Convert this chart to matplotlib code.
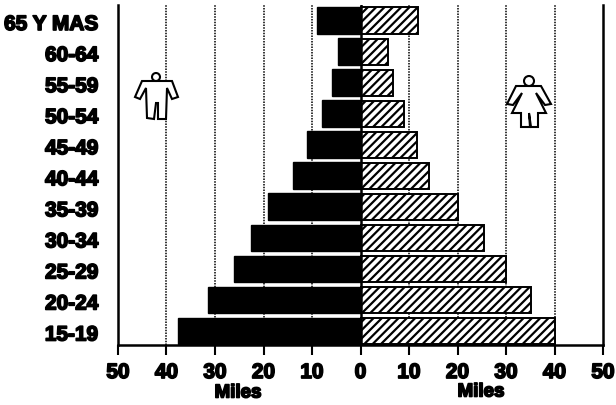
import numpy as np
import matplotlib
matplotlib.use("Agg")
import matplotlib.pyplot as plt
import matplotlib.patheffects as pe
from matplotlib.patches import Polygon, Circle
from matplotlib.transforms import Affine2D, ScaledTranslation

plt.rcParams["font.family"] = ["Liberation Sans", "DejaVu Sans"]
plt.rcParams["hatch.linewidth"] = 1.6

# data (thousands, "Miles")
grupos = ["15-19", "20-24", "25-29", "30-34", "35-39", "40-44",
          "45-49", "50-54", "55-59", "60-64", "65 Y MAS"]
hombres = [37.7, 31.5, 26, 22.6, 19, 14, 11, 7.9, 5.9, 4.6, 9]
mujeres = [40.2, 35.2, 30, 25.5, 20, 14.2, 11.6, 9, 6.7, 5.7, 11.9]
ticks = [-50, -40, -30, -20, -10, 0, 10, 20, 30, 40, 50]
grid_ticks = [-40, -30, -20, -10, 10, 20, 30, 40]

W, H = 616, 405
fig = plt.figure(figsize=(W / 100, H / 100), dpi=100, facecolor="white")
ax = fig.add_axes([118 / W, 60 / H, 485 / W, 340 / H])
fat = [pe.withStroke(linewidth=1.2, foreground="black")]

y = np.arange(len(grupos))
ax.set_xlim(-50, 50)
ax.set_ylim(-0.45, 10.5)

for t in grid_ticks:
    ax.axvline(t, color="black", lw=1.1, ls=(0, (1, 0.8)), zorder=1)

ax.barh(y, [-v for v in hombres], height=0.86, color="black", edgecolor="black", lw=1, zorder=2)
ax.barh(y, mujeres, height=0.84, color="white", edgecolor="black", hatch="////", lw=1.4, zorder=2)
ax.axvline(0, color="black", lw=1.8, zorder=3)

ax.spines["top"].set_visible(False)
for s in ["left", "right", "bottom"]:
    ax.spines[s].set_linewidth(1.8)

ax.set_xticks(ticks)
ax.set_xticklabels([str(abs(t)) for t in ticks], fontsize=15, fontweight="bold", path_effects=fat)
ax.set_yticks(y)
ax.set_yticklabels(grupos, fontsize=15, fontweight="bold", path_effects=fat)
ax.tick_params(axis="x", length=7, width=1.5, pad=6)
ax.tick_params(axis="y", length=0, pad=14)
# labels sit a little below the bar centres in the original
for lab in ax.get_yticklabels():
    lab.set_transform(lab.get_transform() + ScaledTranslation(0, -2 / 100, fig.dpi_scale_trans))

fig.text(238 / W, 1 - 393 / H, "Miles", fontsize=13.5, fontweight="bold", ha="center", va="center", path_effects=fat)
fig.text(481 / W, 1 - 392 / H, "Miles", fontsize=13.5, fontweight="bold", ha="center", va="center", path_effects=fat)

# pictograms, outline in pixels of the picture
px = Affine2D().scale(1 / W, -1 / H).translate(0, 1) + fig.transFigure
hombre = [(142, 81), (135, 97), (140, 99), (146, 88), (147, 118), (154, 119), (156, 103),
          (158, 103), (158, 119), (166, 119), (167, 88), (172, 99), (178, 97), (172, 81)]
mujer = [(516, 86), (507, 104), (513, 105), (522, 93), (512, 113), (521, 113), (521, 127),
         (530, 127), (529, 113), (531, 127), (538, 127), (538, 113), (546, 113), (536, 93),
         (545, 105), (551, 104), (541, 86)]
for pts in [hombre, mujer]:
    fig.add_artist(Polygon(pts, closed=True, fc="white", ec="black", lw=1.5, transform=px, zorder=5))
fig.add_artist(Circle((156, 77), 4, fc="white", ec="black", lw=1.5, transform=px, zorder=5))
fig.add_artist(Circle((529, 81), 5, fc="white", ec="black", lw=1.5, transform=px, zorder=5))

fig.savefig("out.png", dpi=100)
